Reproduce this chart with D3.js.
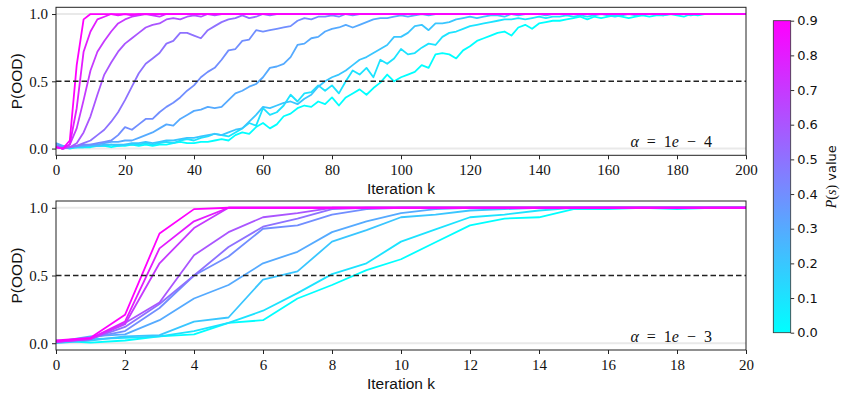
<!DOCTYPE html>
<html><head><meta charset="utf-8">
<script src="https://cdn.jsdelivr.net/npm/d3@7"></script>
<style>body{margin:0;background:#fff}</style>
</head><body>
<svg id="c" width="847" height="399"></svg>
<script>
// ---------- data ----------
const psValues = [0.0,0.1,0.2,0.3,0.4,0.5,0.6,0.7,0.8,0.9];
const kTop = d3.range(0, 201, 2);   // iteration index, top panel (alpha = 1e-4)
const kBot = d3.range(0, 21);       // iteration index, bottom panel (alpha = 1e-3)
const xTicksTop = [0,20,40,60,80,100,120,140,160,180,200];
const xTicksBot = [0,2,4,6,8,10,12,14,16,18,20];
const yTicks = [0,0.5,1.0];
const cbTicks = [0,0.1,0.2,0.3,0.4,0.5,0.6,0.7,0.8,0.9];

const top0 = [0.02,0.01,0.00,0.01,0.01,0.01,0.02,0.02,0.01,0.02,
 0.02,0.03,0.02,0.03,0.02,0.03,0.03,0.04,0.05,0.04,
 0.04,0.05,0.05,0.06,0.07,0.06,0.10,0.12,0.11,0.16,
 0.19,0.15,0.18,0.24,0.26,0.30,0.32,0.31,0.35,0.33,
 0.38,0.32,0.38,0.41,0.44,0.40,0.45,0.49,0.55,0.50,
 0.53,0.55,0.57,0.62,0.60,0.70,0.71,0.70,0.67,0.73,
 0.76,0.80,0.82,0.84,0.86,0.87,0.84,0.90,0.92,0.89,
 0.93,0.94,0.95,0.95,0.96,0.97,0.98,0.96,0.98,0.97,
 0.98,0.99,0.98,0.97,0.98,0.99,0.98,0.99,0.99,1.00,
 0.99,0.98,1.00,0.99,1.00,1.00,1.00,1.00,1.00,1.00,
 1.00];
const top1 = [0.01,0.02,0.01,0.01,0.01,0.02,0.02,0.02,0.03,0.02,
 0.03,0.03,0.03,0.04,0.03,0.04,0.05,0.04,0.06,0.07,
 0.06,0.08,0.09,0.11,0.10,0.09,0.12,0.15,0.19,0.17,
 0.30,0.25,0.27,0.32,0.40,0.35,0.41,0.42,0.47,0.43,
 0.47,0.41,0.50,0.58,0.55,0.60,0.53,0.66,0.63,0.67,
 0.74,0.70,0.71,0.75,0.78,0.77,0.83,0.86,0.87,0.89,
 0.91,0.92,0.93,0.94,0.95,0.96,0.96,0.97,0.96,0.97,
 0.98,0.97,0.98,0.98,0.99,0.98,0.99,0.98,0.99,1.00,
 0.99,0.98,0.99,1.00,0.99,1.00,1.00,1.00,0.99,1.00,
 1.00,1.00,0.99,1.00,1.00,1.00,1.00,1.00,1.00,1.00,
 1.00];
const top2 = [0.02,0.01,0.01,0.01,0.02,0.02,0.02,0.03,0.03,0.03,
 0.03,0.04,0.04,0.05,0.04,0.05,0.06,0.06,0.07,0.08,
 0.08,0.09,0.10,0.11,0.10,0.12,0.14,0.15,0.20,0.25,
 0.31,0.30,0.32,0.34,0.35,0.33,0.37,0.40,0.46,0.50,
 0.53,0.55,0.58,0.62,0.66,0.68,0.71,0.74,0.77,0.83,
 0.83,0.86,0.91,0.92,0.88,0.93,0.93,0.94,0.96,0.97,
 0.98,0.97,0.98,0.99,0.99,0.98,1.00,0.99,1.00,1.00,
 1.00,0.99,1.00,1.00,1.00,1.00,1.00,1.00,1.00,1.00,
 1.00,1.00,1.00,1.00,1.00,1.00,1.00,1.00,1.00,1.00,
 1.00,1.00,1.00,1.00,1.00,1.00,1.00,1.00,1.00,1.00,
 1.00];
const top3 = [0.04,0.02,0.01,0.02,0.02,0.03,0.03,0.04,0.05,0.05,
 0.06,0.06,0.08,0.10,0.12,0.15,0.18,0.17,0.22,0.25,
 0.28,0.29,0.31,0.30,0.31,0.36,0.41,0.43,0.46,0.48,
 0.53,0.60,0.61,0.63,0.68,0.77,0.78,0.82,0.83,0.87,
 0.89,0.90,0.92,0.90,0.92,0.94,0.96,0.97,0.97,0.98,
 0.99,0.98,0.99,1.00,0.99,1.00,1.00,1.00,1.00,1.00,
 1.00,1.00,1.00,1.00,1.00,1.00,1.00,1.00,1.00,1.00,
 1.00,1.00,1.00,1.00,1.00,1.00,1.00,1.00,1.00,1.00,
 1.00,1.00,1.00,1.00,1.00,1.00,1.00,1.00,1.00,1.00,
 1.00,1.00,1.00,1.00,1.00,1.00,1.00,1.00,1.00,1.00,
 1.00];
const top4 = [0.03,0.01,0.01,0.02,0.03,0.03,0.04,0.05,0.06,0.10,
 0.16,0.14,0.18,0.22,0.22,0.27,0.31,0.34,0.38,0.43,
 0.47,0.53,0.57,0.60,0.66,0.73,0.74,0.80,0.81,0.88,
 0.87,0.88,0.89,0.90,0.91,0.95,0.97,0.96,0.98,0.98,
 0.99,0.98,1.00,0.99,1.00,1.00,1.00,1.00,1.00,1.00,
 1.00,1.00,1.00,1.00,1.00,1.00,1.00,1.00,1.00,1.00,
 1.00,1.00,1.00,1.00,1.00,1.00,1.00,1.00,1.00,1.00,
 1.00,1.00,1.00,1.00,1.00,1.00,1.00,1.00,1.00,1.00,
 1.00,1.00,1.00,1.00,1.00,1.00,1.00,1.00,1.00,1.00,
 1.00,1.00,1.00,1.00,1.00,1.00,1.00,1.00,1.00,1.00,
 1.00];
const top5 = [0.01,0.00,0.01,0.02,0.04,0.06,0.10,0.14,0.20,0.27,
 0.36,0.46,0.56,0.63,0.67,0.71,0.78,0.80,0.86,0.86,
 0.84,0.82,0.88,0.91,0.94,0.96,0.97,0.99,0.97,0.98,
 1.00,0.99,1.00,1.00,1.00,1.00,1.00,1.00,1.00,1.00,
 1.00,1.00,1.00,1.00,1.00,1.00,1.00,1.00,1.00,1.00,
 1.00,1.00,1.00,1.00,1.00,1.00,1.00,1.00,1.00,1.00,
 1.00,1.00,1.00,1.00,1.00,1.00,1.00,1.00,1.00,1.00,
 1.00,1.00,1.00,1.00,1.00,1.00,1.00,1.00,1.00,1.00,
 1.00,1.00,1.00,1.00,1.00,1.00,1.00,1.00,1.00,1.00,
 1.00,1.00,1.00,1.00,1.00,1.00,1.00,1.00,1.00,1.00,
 1.00];
const top6 = [0.01,0.00,0.01,0.04,0.12,0.24,0.40,0.55,0.64,0.72,
 0.78,0.82,0.86,0.90,0.92,0.93,0.96,0.97,0.96,0.98,
 0.99,0.98,1.00,0.99,1.00,1.00,1.00,1.00,1.00,1.00,
 1.00,1.00,1.00,1.00,1.00,1.00,1.00,1.00,1.00,1.00,
 1.00,1.00,1.00,1.00,1.00,1.00,1.00,1.00,1.00,1.00,
 1.00,1.00,1.00,1.00,1.00,1.00,1.00,1.00,1.00,1.00,
 1.00,1.00,1.00,1.00,1.00,1.00,1.00,1.00,1.00,1.00,
 1.00,1.00,1.00,1.00,1.00,1.00,1.00,1.00,1.00,1.00,
 1.00,1.00,1.00,1.00,1.00,1.00,1.00,1.00,1.00,1.00,
 1.00,1.00,1.00,1.00,1.00,1.00,1.00,1.00,1.00,1.00,
 1.00];
const top7 = [0.01,0.00,0.03,0.15,0.36,0.58,0.72,0.80,0.87,0.93,
 0.96,0.98,0.99,1.00,0.99,0.98,1.00,1.00,1.00,1.00,
 1.00,1.00,1.00,1.00,1.00,1.00,1.00,1.00,1.00,1.00,
 1.00,1.00,1.00,1.00,1.00,1.00,1.00,1.00,1.00,1.00,
 1.00,1.00,1.00,1.00,1.00,1.00,1.00,1.00,1.00,1.00,
 1.00,1.00,1.00,1.00,1.00,1.00,1.00,1.00,1.00,1.00,
 1.00,1.00,1.00,1.00,1.00,1.00,1.00,1.00,1.00,1.00,
 1.00,1.00,1.00,1.00,1.00,1.00,1.00,1.00,1.00,1.00,
 1.00,1.00,1.00,1.00,1.00,1.00,1.00,1.00,1.00,1.00,
 1.00,1.00,1.00,1.00,1.00,1.00,1.00,1.00,1.00,1.00,
 1.00];
const top8 = [0.01,0.00,0.03,0.30,0.72,0.87,0.96,0.98,1.00,0.99,
 1.00,0.99,1.00,1.00,1.00,1.00,1.00,1.00,1.00,1.00,
 1.00,1.00,1.00,1.00,1.00,1.00,1.00,1.00,1.00,1.00,
 1.00,1.00,1.00,1.00,1.00,1.00,1.00,1.00,1.00,1.00,
 1.00,1.00,1.00,1.00,1.00,1.00,1.00,1.00,1.00,1.00,
 1.00,1.00,1.00,1.00,1.00,1.00,1.00,1.00,1.00,1.00,
 1.00,1.00,1.00,1.00,1.00,1.00,1.00,1.00,1.00,1.00,
 1.00,1.00,1.00,1.00,1.00,1.00,1.00,1.00,1.00,1.00,
 1.00,1.00,1.00,1.00,1.00,1.00,1.00,1.00,1.00,1.00,
 1.00,1.00,1.00,1.00,1.00,1.00,1.00,1.00,1.00,1.00,
 1.00];
const top9 = [0.01,0.00,0.06,0.62,0.96,1.00,1.00,1.00,1.00,1.00,
 1.00,1.00,1.00,1.00,1.00,1.00,1.00,1.00,1.00,1.00,
 1.00,1.00,1.00,1.00,1.00,1.00,1.00,1.00,1.00,1.00,
 1.00,1.00,1.00,1.00,1.00,1.00,1.00,1.00,1.00,1.00,
 1.00,1.00,1.00,1.00,1.00,1.00,1.00,1.00,1.00,1.00,
 1.00,1.00,1.00,1.00,1.00,1.00,1.00,1.00,1.00,1.00,
 1.00,1.00,1.00,1.00,1.00,1.00,1.00,1.00,1.00,1.00,
 1.00,1.00,1.00,1.00,1.00,1.00,1.00,1.00,1.00,1.00,
 1.00,1.00,1.00,1.00,1.00,1.00,1.00,1.00,1.00,1.00,
 1.00,1.00,1.00,1.00,1.00,1.00,1.00,1.00,1.00,1.00,
 1.00];

const bot0 = [0.02,0.005,0.02,0.05,0.066,0.15,0.17,0.33,0.43,0.54,0.62,0.745,0.87,0.92,0.93,0.99,0.99,1.00,0.99,1.00,1.00];
const bot1 = [0.01,0.03,0.04,0.05,0.09,0.15,0.24,0.37,0.51,0.59,0.75,0.84,0.93,0.95,0.98,1.00,1.00,1.00,1.00,1.00,1.00];
const bot2 = [0.00,0.02,0.05,0.06,0.16,0.19,0.47,0.53,0.75,0.835,0.93,0.95,0.98,0.99,1.00,1.00,1.00,1.00,1.00,1.00,1.00];
const bot3 = [0.01,0.05,0.065,0.17,0.33,0.43,0.59,0.675,0.82,0.90,0.96,0.99,1.00,1.00,1.00,1.00,1.00,1.00,1.00,1.00,1.00];
const bot4 = [0.01,0.04,0.09,0.26,0.50,0.64,0.845,0.87,0.95,0.99,1.00,1.00,1.00,1.00,1.00,1.00,1.00,1.00,1.00,1.00,1.00];
const bot5 = [0.01,0.03,0.12,0.29,0.50,0.71,0.86,0.92,0.99,1.00,1.00,1.00,1.00,1.00,1.00,1.00,1.00,1.00,1.00,1.00,1.00];
const bot6 = [0.01,0.03,0.15,0.30,0.65,0.82,0.93,0.96,1.00,1.00,1.00,1.00,1.00,1.00,1.00,1.00,1.00,1.00,1.00,1.00,1.00];
const bot7 = [0.01,0.03,0.14,0.59,0.85,1.00,1.00,1.00,1.00,1.00,1.00,1.00,1.00,1.00,1.00,1.00,1.00,1.00,1.00,1.00,1.00];
const bot8 = [0.01,0.035,0.16,0.70,0.90,1.00,1.00,1.00,1.00,1.00,1.00,1.00,1.00,1.00,1.00,1.00,1.00,1.00,1.00,1.00,1.00];
const bot9 = [0.02,0.04,0.21,0.81,0.99,1.00,1.00,1.00,1.00,1.00,1.00,1.00,1.00,1.00,1.00,1.00,1.00,1.00,1.00,1.00,1.00];

const topSeries = [top0,top1,top2,top3,top4,top5,top6,top7,top8,top9];
const botSeries = [bot0,bot1,bot2,bot3,bot4,bot5,bot6,bot7,bot8,bot9];

// ---------- drawing ----------
const svg = d3.select("#c");
const color = d3.scaleLinear().domain([0, 0.9]).range(["#00ffff", "#ff00ff"]).interpolate(d3.interpolateRgb);
const serif = "'Liberation Serif','Times New Roman',serif";
const sans = "'Liberation Sans',Arial,sans-serif";

function panel(cfg) {
  const x = d3.scaleLinear().domain(cfg.xDomain).range([56, 746]);
  const y = d3.scaleLinear().domain([-0.05, 1.05]).range([cfg.bottom, cfg.top]);
  const g = svg.append("g");
  [0, 1].forEach(v => {
    g.append("line").attr("x1", x(cfg.xDomain[0])).attr("x2", x(cfg.xDomain[1]))
      .attr("y1", y(v)).attr("y2", y(v))
      .attr("stroke", "#e9e9e9").attr("stroke-width", 2);
  });
  const line = d3.line().x((d, i) => x(cfg.ks[i])).y(d => y(d));
  cfg.series.forEach((s, j) => {
    g.append("path").attr("d", line(s)).attr("fill", "none")
      .attr("stroke", color(psValues[j])).attr("stroke-width", 1.8)
      .attr("stroke-linejoin", "round");
  });
  g.append("line").attr("x1", x(cfg.xDomain[0])).attr("x2", x(cfg.xDomain[1]))
    .attr("y1", y(0.5)).attr("y2", y(0.5))
    .attr("stroke", "#222").attr("stroke-width", 1.6).attr("stroke-dasharray", "5.5,3");
  g.append("rect").attr("x", 56).attr("y", cfg.top).attr("width", 690).attr("height", cfg.bottom - cfg.top)
    .attr("fill", "none").attr("stroke", "#222").attr("stroke-width", 1);
  const ax = g.append("g").attr("transform", `translate(0,${cfg.bottom})`)
    .call(d3.axisBottom(x).tickValues(cfg.xTicks).tickSize(4).tickPadding(5).tickFormat(d => d));
  const ay = g.append("g").attr("transform", `translate(56,0)`)
    .call(d3.axisLeft(y).tickValues(yTicks).tickSize(4).tickPadding(4).tickFormat(d3.format(".1f")));
  [ax, ay].forEach(a => {
    a.select(".domain").remove();
    a.selectAll(".tick line").attr("stroke", "#222");
    a.selectAll(".tick text").attr("font-family", serif).attr("font-size", 15).attr("fill", "#111");
  });
  g.append("text").attr("x", 401).attr("y", cfg.bottom + 39).attr("text-anchor", "middle")
    .attr("font-family", sans).attr("font-size", 15.5).attr("fill", "#111").text("Iteration k");
  const cy = (cfg.top + cfg.bottom) / 2;
  g.append("text").attr("transform", `translate(22,${cy}) rotate(-90)`).attr("text-anchor", "middle")
    .attr("font-family", sans).attr("font-size", 15.5).attr("fill", "#111").text("P(OOD)");
  const t = g.append("text").attr("x", 712).attr("y", cfg.bottom - 8).attr("text-anchor", "end")
    .attr("font-family", serif).attr("font-size", 16).attr("fill", "#111")
    .style("white-space", "pre");
  t.append("tspan").attr("font-style", "italic").text("α");
  t.append("tspan").text("  =  1");
  t.append("tspan").attr("font-style", "italic").text("e");
  t.append("tspan").text("  −  " + cfg.exp);
}

panel({xDomain: [0, 200], ks: kTop, series: topSeries, xTicks: xTicksTop, top: 7.3, bottom: 155.3, exp: "4"});
panel({xDomain: [0, 20], ks: kBot, series: botSeries, xTicks: xTicksBot, top: 201, bottom: 350, exp: "3"});

// ---------- colorbar ----------
const cbX = 773.3, cbW = 17.4, cbTop = 20.7, cbBot = 332.7;
const cbY = d3.scaleLinear().domain([0, 0.9]).range([cbBot, cbTop]);
const defs = svg.append("defs");
const grad = defs.append("linearGradient").attr("id", "cbgrad")
  .attr("x1", 0).attr("y1", 1).attr("x2", 0).attr("y2", 0);
[0, 0.5, 1].forEach(o => grad.append("stop").attr("offset", o).attr("stop-color", color(o * 0.9)));
svg.append("rect").attr("x", cbX).attr("y", cbTop).attr("width", cbW).attr("height", cbBot - cbTop)
  .attr("fill", "url(#cbgrad)").attr("stroke", "#333").attr("stroke-width", 0.8);
const cax = svg.append("g").attr("transform", `translate(${cbX + cbW},0)`)
  .call(d3.axisRight(cbY).tickValues(cbTicks).tickSize(3.5).tickPadding(3).tickFormat(d3.format(".1f")));
cax.select(".domain").remove();
cax.selectAll(".tick line").attr("stroke", "#333");
cax.selectAll(".tick text").attr("font-family", "'DejaVu Sans',sans-serif").attr("font-size", 13).attr("fill", "#111");
const cl = svg.append("text").attr("transform", `translate(836,${(cbTop + cbBot) / 2}) rotate(-90)`)
  .attr("text-anchor", "middle").attr("font-size", 14).attr("fill", "#111");
cl.append("tspan").attr("font-family", serif).attr("font-style", "italic").text("P");
cl.append("tspan").attr("font-family", serif).text("(");
cl.append("tspan").attr("font-family", serif).attr("font-style", "italic").text("s");
cl.append("tspan").attr("font-family", serif).text(")");
cl.append("tspan").attr("font-family", "'DejaVu Sans',sans-serif").attr("font-size", 13).text(" value");
</script>
</body></html>
